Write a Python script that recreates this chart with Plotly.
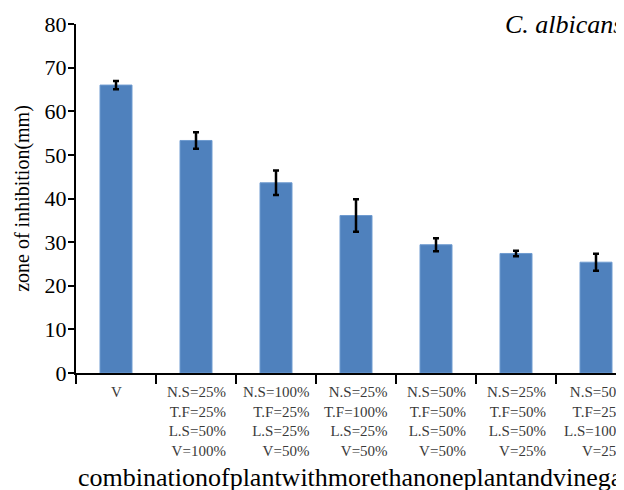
import plotly.graph_objects as go

categories = [
    "V",
    "N.S=25%<br>T.F=25%<br>L.S=50%<br>V=100%",
    "N.S=100%<br>T.F=25%<br>L.S=25%<br>V=50%",
    "N.S=25%<br>T.F=100%<br>L.S=25%<br>V=50%",
    "N.S=50%<br>T.F=50%<br>L.S=50%<br>V=50%",
    "N.S=25%<br>T.F=50%<br>L.S=50%<br>V=25%",
    "N.S=50%<br>T.F=25%<br>L.S=100%<br>V=25%",
]
values = [66.0, 53.3, 43.6, 36.1, 29.4, 27.4, 25.4]
errors = [0.95, 1.9, 2.8, 3.7, 1.5, 0.65, 1.95]
y_ticks = [0, 10, 20, 30, 40, 50, 60, 70, 80]

FONT = "Liberation Serif"
positions = list(range(len(categories)))

# the page adds an 8px body margin, so the layout is offset to compensate
L, T, B = 68, 16, 125
PW = 624 - L

fig = go.Figure()
fig.add_trace(go.Bar(
    x=positions, y=values, width=0.4,
    marker=dict(color="#4f81bd", line=dict(color="#6f9bd0", width=1)),
    error_y=dict(type="data", array=errors, visible=True,
                 color="black", thickness=2.5, width=3),
    showlegend=False,
))

annotations = []
for i, lab in enumerate(categories):
    annotations.append(dict(
        x=i, y=-0.026, xref="x", yref="paper", text=lab, showarrow=False,
        xanchor="center", yanchor="top", align="right",
        font=dict(family=FONT, size=15, color="#3a3a3a"),
    ))
annotations.append(dict(
    x=(495 - L) / PW, y=1.0, xref="paper", yref="paper",
    text="<i>C. albicans</i>", showarrow=False, xanchor="left", yanchor="middle",
    font=dict(family=FONT, size=26, color="black"),
))
annotations.append(dict(
    x=0.0, y=-0.252, xref="paper", yref="paper",
    text="combinationofplantwithmorethanoneplantandvinegar", showarrow=False,
    xanchor="left", yanchor="top",
    font=dict(family=FONT, size=26, color="black"),
))

fig.update_layout(
    width=624, height=490,
    margin=dict(l=L, r=0, t=T, b=B, pad=0),
    plot_bgcolor="white", paper_bgcolor="white",
    font=dict(family=FONT, color="black"),
    annotations=annotations,
    xaxis=dict(
        range=[-0.5, -0.5 + PW / 80], tickvals=positions, ticktext=[""] * len(positions),
        ticks="", showgrid=False, zeroline=False,
        showline=True, linecolor="black", linewidth=2,
        minor=dict(tick0=-0.5, dtick=1, ticks="outside", ticklen=9,
                   tickwidth=2, tickcolor="black", showgrid=False),
        automargin=False,
    ),
    yaxis=dict(
        range=[0, 80], tickvals=y_ticks, ticks="outside", ticklen=6, tickwidth=2,
        tickcolor="black", showgrid=False, zeroline=False,
        showline=True, linecolor="black", linewidth=2,
        tickfont=dict(family=FONT, size=22, color="black"),
        ticklabelstandoff=-3,
        title=dict(text="zone of inhibition(mm)", standoff=10,
                   font=dict(family=FONT, size=20, color="black")),
        automargin=False,
    ),
)

fig.write_html("out.html")
